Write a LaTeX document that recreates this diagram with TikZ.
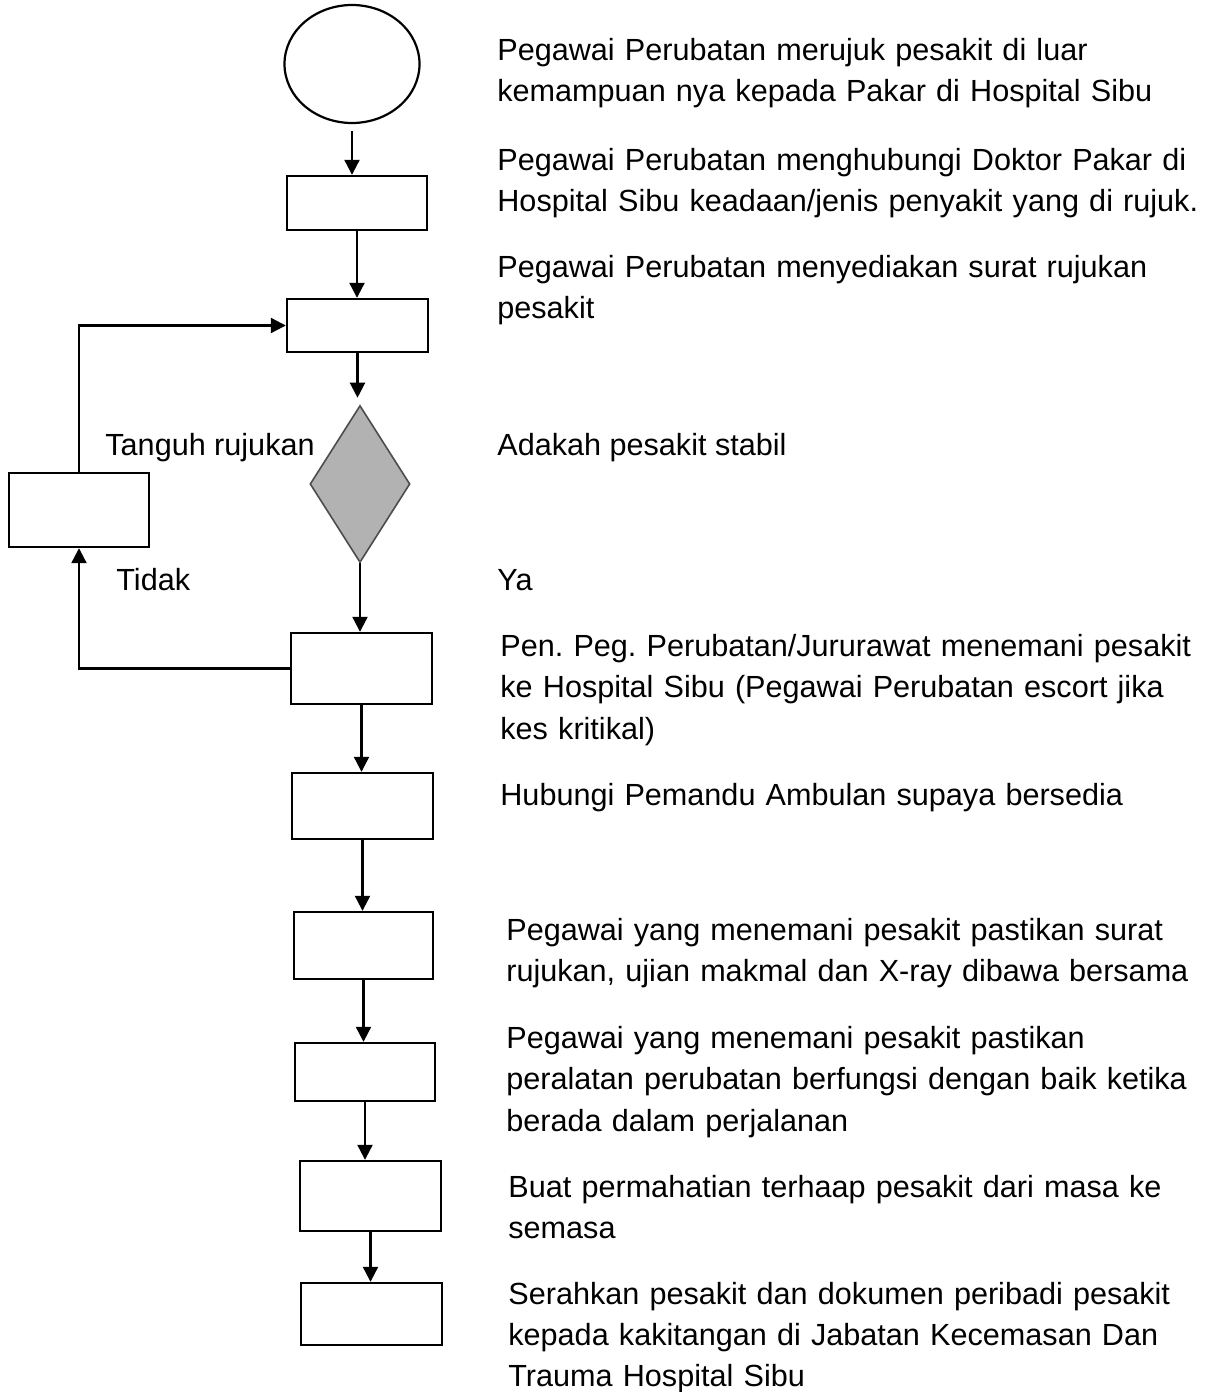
\documentclass[tikz,border=0pt]{standalone}
\usepackage{fontspec}
\setmainfont{Liberation Sans}
\usetikzlibrary{arrows.meta,shapes.geometric}
\frenchspacing
\begin{document}
\begin{tikzpicture}[x=0.5pt,y=-0.5pt,
  box/.style={draw=black,line width=1.2pt,rectangle,inner sep=0pt},
  arr/.style={line width=1.1pt,-{Triangle[width=7.5pt,length=7.5pt]}},
  desc/.style={anchor=base west,inner sep=0pt,text width=360pt,align=left,
    font=\fontsize{15.3}{20.75}\selectfont},
  lbl/.style={anchor=base west,inner sep=0pt,font=\fontsize{15.3}{20.75}\selectfont}]
\useasboundingbox (0,0) rectangle (1206,1392);
% shapes
\node[draw=black,line width=1.1pt,ellipse,minimum width=67.5pt,minimum height=59pt,inner sep=0pt] (start) at (352,64) {};
\node[box,minimum width=70pt,minimum height=27pt] (b1) at (357,203) {};
\node[box,minimum width=70.5pt,minimum height=26.5pt] (b2) at (357.5,325.5) {};
\node[diamond,draw=black!70,line width=0.8pt,fill=gray!60,inner sep=0pt,minimum width=50pt,minimum height=78.5pt] (d) at (360,484) {};
\node[box,minimum width=70pt,minimum height=37pt] (loop) at (79,510) {};
\node[box,minimum width=70.5pt,minimum height=35.5pt] (b3) at (361.5,668.5) {};
\node[box,minimum width=70.5pt,minimum height=33pt] (b4) at (362.5,806) {};
\node[box,minimum width=69.5pt,minimum height=33.5pt] (b5) at (363.5,945.5) {};
\node[box,minimum width=70pt,minimum height=29pt] (b6) at (365,1072) {};
\node[box,minimum width=70.5pt,minimum height=35pt] (b7) at (370.5,1196) {};
\node[box,minimum width=70.5pt,minimum height=31pt] (b8) at (371.5,1314) {};
% connectors
\draw[arr,shorten <=3.5pt] (start.south) -- (start.south |- b1.north);
\draw[arr] (b1.south) -- (b1.south |- b2.north);
\draw[arr,shorten >=3.5pt] (b2.south) -- (b2.south |- d.north);
\draw[arr] (d.south) -- (d.south |- b3.north);
\draw[arr] (b3.west) -| (loop.south);
\draw[arr] (loop.north) |- (b2.west);
\draw[arr] (b3.south) -- (b3.south |- b4.north);
\draw[arr] (b4.south) -- (b4.south |- b5.north);
\draw[arr] (b5.south) -- (b5.south |- b6.north);
\draw[arr] (b6.south) -- (b6.south |- b7.north);
\draw[arr] (b7.south) -- (b7.south |- b8.north);
% labels
\node[lbl] (tanguh) at (105,455) {Tanguh rujukan};
\node[lbl] (tidak) at (116,590) {Tidak};
\node[lbl] (ya) at (497,590) {Ya};
\node[lbl] (t4) at (497,455) {Adakah pesakit stabil};
% descriptions
\node[desc] (t1) at (497,60) {Pegawai Perubatan merujuk pesakit di luar\\kemampuan nya kepada Pakar di Hospital Sibu};
\node[desc] (t2) at (497,170) {Pegawai Perubatan menghubungi Doktor Pakar di\\Hospital Sibu keadaan/jenis penyakit yang di rujuk.};
\node[desc] (t3) at (497,277) {Pegawai Perubatan menyediakan surat rujukan\\pesakit};
\node[desc] (t5) at (500,656) {Pen. Peg. Perubatan/Jururawat menemani pesakit\\ke Hospital Sibu (Pegawai Perubatan escort jika\\kes kritikal)};
\node[desc] (t6) at (500,805) {Hubungi Pemandu Ambulan supaya bersedia};
\node[desc] (t7) at (506,940) {Pegawai yang menemani pesakit pastikan surat\\rujukan, ujian makmal dan X-ray dibawa bersama};
\node[desc] (t8) at (506,1048) {Pegawai yang menemani pesakit pastikan\\peralatan perubatan berfungsi dengan baik ketika\\berada dalam perjalanan};
\node[desc] (t9) at (508,1197) {Buat permahatian terhaap pesakit dari masa ke\\semasa};
\node[desc,font=\fontsize{15.3}{20.5}\selectfont] (t10) at (508,1304) {Serahkan pesakit dan dokumen peribadi pesakit\\kepada kakitangan di Jabatan Kecemasan Dan\\Trauma Hospital Sibu};
\end{tikzpicture}
\end{document}
